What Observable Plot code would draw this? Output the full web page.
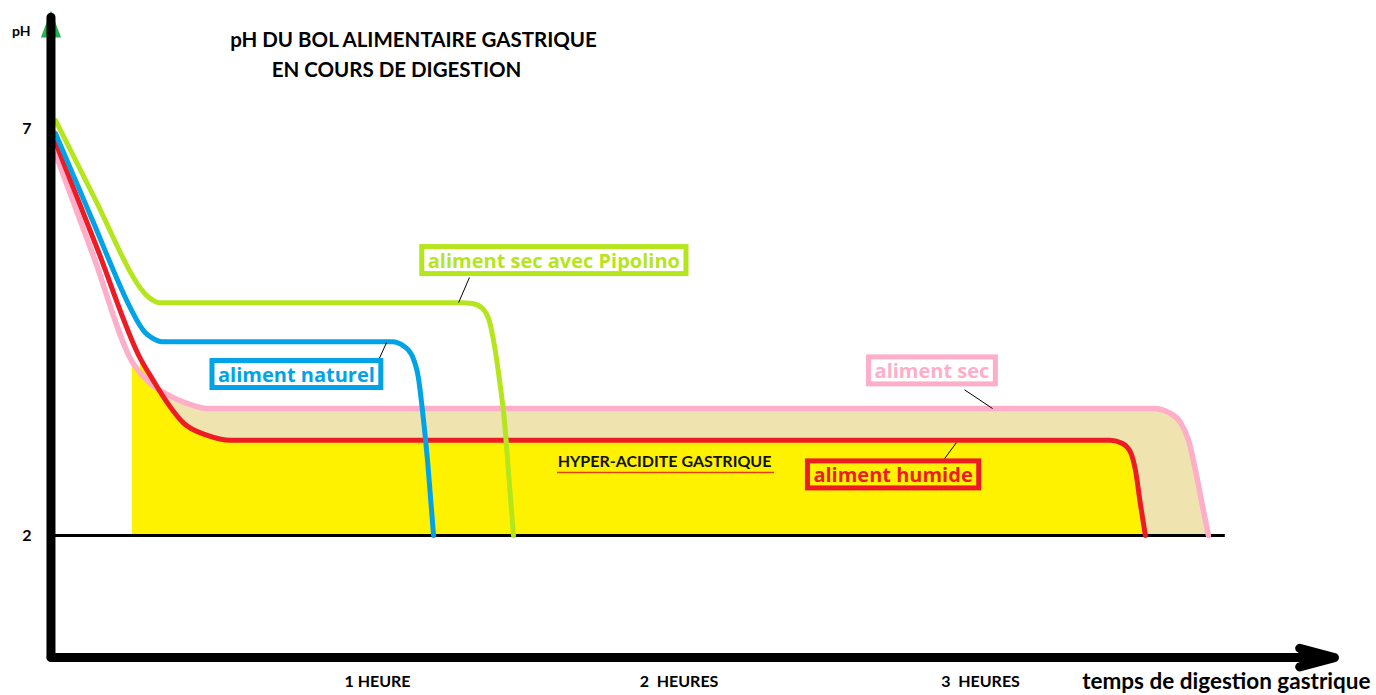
<!DOCTYPE html>
<html>
<head>
<meta charset="utf-8">
<script src="https://cdn.jsdelivr.net/npm/d3@7"></script>
<script src="https://cdn.jsdelivr.net/npm/@observablehq/plot@0.6"></script>
<style>
  html, body { margin: 0; padding: 0; background: #fff; overflow: hidden; }
  #chart svg { display: block; }
</style>
</head>
<body>
<div id="chart"></div>
<script>
// ---------------- DATA (time in hours, pH) ----------------
const seriesNames  = ["aliment sec avec Pipolino", "aliment naturel", "aliment sec", "aliment humide"];
const seriesColors = ["#B5E61D", "#00A2E8", "#FFAEC9", "#ED1C24"];

const pipolinoHours = [-0.068, 0.065, 0.197, 0.215, 0.234, 0.255, 0.274, 1.275, 1.315, 1.348, 1.372, 1.388, 1.405, 1.421, 1.434, 1.451];
const pipolinoPH    = [7.10, 6.12, 5.13, 5.03, 4.95, 4.89, 4.86, 4.86, 4.85, 4.79, 4.62, 4.33, 3.90, 3.41, 2.80, 2.00];

const naturelHours  = [-0.068, 0.055, 0.181, 0.198, 0.214, 0.230, 0.247, 0.287, 1.050, 1.086, 1.102, 1.116, 1.136, 1.149, 1.166, 1.186];
const naturelPH     = [6.94, 5.87, 4.79, 4.67, 4.57, 4.49, 4.44, 4.38, 4.38, 4.33, 4.28, 4.20, 3.93, 3.54, 2.92, 2.00];

const secHours      = [-0.068, 0.058, 0.187, 0.237, 0.303, 0.370, 0.436, 3.574, 3.630, 3.663, 3.690, 3.713, 3.736, 3.756];
const secPH         = [6.69, 5.43, 4.13, 3.90, 3.73, 3.62, 3.56, 3.56, 3.50, 3.39, 3.17, 2.80, 2.37, 2.00];

const humideHours   = [-0.068, 0.072, 0.214, 0.257, 0.303, 0.357, 0.436, 0.512, 3.431, 3.471, 3.498, 3.514, 3.531, 3.547];
const humidePH      = [6.83, 5.51, 4.17, 3.90, 3.63, 3.38, 3.23, 3.17, 3.17, 3.13, 3.02, 2.80, 2.37, 2.00];

// hyper-acidity zone (below the curves, above pH 2)
const hyperStartHours = 0.187;
const hyperJoinHours  = 0.237;
const acidThresholdPH = 2;
const thresholdEndHours = 3.812;
const hyperLabel = "HYPER-ACIDITE GASTRIQUE";
const hyperLabelHours = 1.952, hyperLabelPH = 2.91;
const hyperUnderlinePH = 2.774, hyperUnderlineFrom = 1.597, hyperUnderlineTo = 2.317;

// axes
const timeTicks = [1, 2, 3];
const timeTickLabels = ["1 HEURE", "2  HEURES", "3  HEURES"];
const phTicks = [2, 7];
const originHours = -0.083, originPH = 0.50;
const yAxisTopPH = 8.36, yArrowBasePH = 8.118, xAxisEndHours = 4.174;

// series label boxes and leader lines
const labelHours = [1.585, 0.731, 2.839, 2.710];
const labelPH    = [5.37, 3.97, 4.015, 2.737];
const leaderFromHours = [1.305, 1.000, 2.947, 2.874];
const leaderFromPH    = [5.17, 4.125, 3.79, 2.91];
const leaderToHours   = [1.269, 1.030, 3.040, 2.920];
const leaderToPH      = [4.86, 4.37, 3.56, 3.14];

// ---------------- BUILD ----------------
const zip = (name, hs, ps) => hs.map((t, i) => ({series: name, t, ph: ps[i]}));
const pipolino = zip(seriesNames[0], pipolinoHours, pipolinoPH);
const naturel  = zip(seriesNames[1], naturelHours, naturelPH);
const sec      = zip(seriesNames[2], secHours, secPH);
const humide   = zip(seriesNames[3], humideHours, humidePH);

const tanZone = sec.filter(d => d.t >= hyperStartHours);
const yellowA = sec.filter(d => d.t >= hyperStartHours && d.t <= hyperJoinHours);
const yellowB = humide.filter(d => d.t >= hyperStartHours);

const labels = seriesNames.map((s, i) => ({text: s, t: labelHours[i], ph: labelPH[i], color: seriesColors[i]}));
const leaders = seriesNames.map((s, i) => ({x1: leaderFromHours[i], y1: leaderFromPH[i], x2: leaderToHours[i], y2: leaderToPH[i]}));

const FONT = "Lato, 'Open Sans', sans-serif";
const LABEL_FONT = "'Open Sans', Lato, sans-serif";
const curve = "monotone-x";

const triangleSymbol = {
  draw(ctx, size) {
    const s = Math.sqrt(size / Math.PI);
    ctx.moveTo(0, -2.7 * s);
    ctx.lineTo(s, 0);
    ctx.lineTo(-s, 0);
    ctx.closePath();
  }
};

const plot = Plot.plot({
  width: 1376,
  height: 695,
  marginTop: 0,
  marginRight: 0,
  marginBottom: 24,
  marginLeft: 35,
  style: {fontFamily: FONT, color: "black", background: "white"},
  x: {domain: [0, 4], range: [75.5, 1281.5]},
  y: {domain: [2, 7], range: [535, 128]},
  marks: [
    // zones
    Plot.areaY(tanZone, {x: "t", y1: acidThresholdPH, y2: "ph", fill: "#EFE4B0", curve}),
    Plot.areaY(yellowA, {x: "t", y1: acidThresholdPH, y2: "ph", fill: "#FFF200", curve}),
    Plot.areaY(yellowB, {x: "t", y1: acidThresholdPH, y2: "ph", fill: "#FFF200", curve}),
    Plot.ruleY([acidThresholdPH], {x1: originHours, x2: thresholdEndHours, stroke: "black", strokeWidth: 3}),
    // hyper-acidity label
    Plot.ruleY([hyperUnderlinePH], {x1: hyperUnderlineFrom, x2: hyperUnderlineTo, stroke: "#E0401A", strokeWidth: 1.5}),
    Plot.text([hyperLabel], {x: hyperLabelHours, y: hyperLabelPH, text: d => d, fontSize: 16, fontWeight: "bold", fill: "#111"}),
    // curves
    Plot.line(sec,      {x: "t", y: "ph", stroke: seriesColors[2], strokeWidth: 5.5, curve, strokeLinejoin: "round"}),
    Plot.line(humide,   {x: "t", y: "ph", stroke: seriesColors[3], strokeWidth: 5, curve, strokeLinejoin: "round"}),
    Plot.line(naturel,  {x: "t", y: "ph", stroke: seriesColors[1], strokeWidth: 5, curve, strokeLinejoin: "round"}),
    Plot.line(pipolino, {x: "t", y: "ph", stroke: seriesColors[0], strokeWidth: 5, curve, strokeLinejoin: "round"}),
    // leaders
    Plot.link(leaders, {x1: "x1", y1: "y1", x2: "x2", y2: "y2", stroke: "black", strokeWidth: 1}),
    // boxed labels
    Plot.text(labels, {x: "t", y: "ph", text: "text", fill: "color", fontSize: 20, fontWeight: "bold", fontFamily: LABEL_FONT}),
    // axes
    Plot.dot([{x: originHours, y: yArrowBasePH}], {x: "x", y: "y", r: 10, symbol: triangleSymbol, fill: "#22B14C", stroke: "none"}),
    Plot.ruleX([originHours], {y1: originPH, y2: yAxisTopPH, stroke: "black", strokeWidth: 9, strokeLinecap: "round"}),
    Plot.arrow([{x1: originHours, y1: originPH, x2: xAxisEndHours, y2: originPH}],
      {x1: "x1", y1: "y1", x2: "x2", y2: "y2", stroke: "black", strokeWidth: 9, headLength: 6, headAngle: 30, strokeLinecap: "round", strokeLinejoin: "round"}),
    Plot.axisX({ticks: timeTicks, tickFormat: d => timeTickLabels[timeTicks.indexOf(d)], tickSize: 0, tickPadding: 4,
      fontSize: 16, fontWeight: "bold", label: null}),
    Plot.axisY({ticks: phTicks, tickFormat: d => String(d), tickSize: 0, tickPadding: 4, fontSize: 16, fontWeight: "bold", label: null}),
    Plot.text(["pH"], {frameAnchor: "top-left", dx: -5, dy: 31, textAnchor: "end", lineAnchor: "middle", text: d => d, fontSize: 14, fontWeight: "bold"}),
    Plot.text(["temps de digestion gastrique"], {frameAnchor: "bottom-right", dx: -6, dy: 10, textAnchor: "end", lineAnchor: "middle", text: d => d, fontSize: 22.5, fontWeight: "bold"}),
    // title
    Plot.text(["pH DU BOL ALIMENTAIRE GASTRIQUE"], {frameAnchor: "top-left", dx: 378, dy: 40, textAnchor: "middle", lineAnchor: "middle", text: d => d, fontSize: 20.5, fontWeight: "bold"}),
    Plot.text(["EN COURS DE DIGESTION"], {frameAnchor: "top-left", dx: 361, dy: 70, textAnchor: "middle", lineAnchor: "middle", text: d => d, fontSize: 20.5, fontWeight: "bold"})
  ]
});

document.getElementById("chart").append(plot);

// draw the coloured frames around the series labels
const NS = "http://www.w3.org/2000/svg";
plot.querySelectorAll("text").forEach(t => {
  if (!seriesNames.includes(t.textContent)) return;
  const b = t.getBBox();
  const padX = 6, padY = 0;
  const r = document.createElementNS(NS, "rect");
  r.setAttribute("x", b.x - padX);
  r.setAttribute("y", b.y - padY);
  r.setAttribute("width", b.width + 2 * padX);
  r.setAttribute("height", b.height + 2 * padY);
  if (t.getAttribute("transform")) r.setAttribute("transform", t.getAttribute("transform"));
  r.setAttribute("fill", "none");
  r.setAttribute("stroke", t.getAttribute("fill"));
  r.setAttribute("stroke-width", 5);
  t.parentNode.insertBefore(r, t);
});
</script>
</body>
</html>
